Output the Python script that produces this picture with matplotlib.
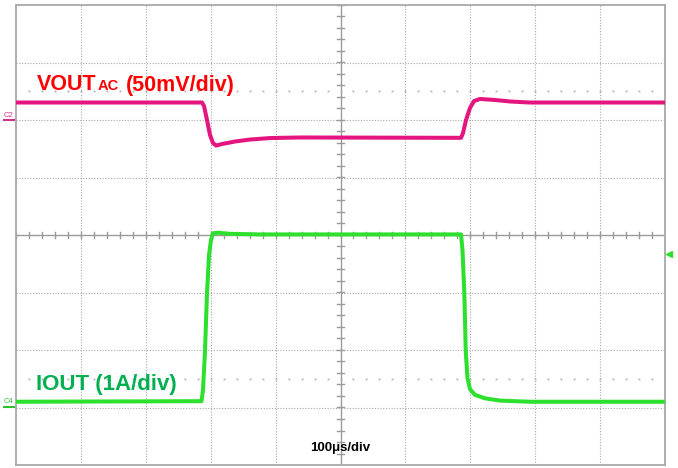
import numpy as np
import matplotlib
matplotlib.use("Agg")
import matplotlib.pyplot as plt
from matplotlib.lines import Line2D

# ---------------- data ----------------
# time in microseconds (0 = screen centre), 100 us/div
vout_t = [-500, -213.4, -210.3, -205.7, -201.1, -196.5, -191.8, -182.6, -162.6, -139.5,
          -108.6, -62.4, 185.7, 188.8, 193.4, 199.5, 205.7, 215.0, 238.1, 261.2, 292.0, 500]
# VOUT AC coupled, mV
vout_mv = [15.2, 15.2, 12.2, 0.0, -13.0, -20.0, -22.2, -20.9, -18.7, -17.0,
           -15.7, -15.2, -15.5, -11.3, 0.0, 10.4, 16.5, 18.3, 17.4, 16.1, 15.2, 15.2]

iout_t = [-500, -214.2, -211.9, -208.8, -205.7, -202.6, -199.6, -196.5, -188.8, -170.3,
          -124.0, 185.7, 188.0, 190.8, 193.0, 195.7, 199.5, 207.2, 222.6, 245.7, 292.0, 500]
# IOUT, A
iout_a = [0.10, 0.11, 0.30, 0.97, 1.99, 2.65, 2.91, 3.03, 3.04, 3.02,
          3.01, 3.01, 2.74, 1.99, 0.97, 0.51, 0.32, 0.22, 0.16, 0.12, 0.10, 0.10]

vout_scale_mv = 50.0   # mV/div
vout_offset_div = 2.0  # C2 ground marker
iout_scale_a = 1.0     # A/div
iout_offset_div = -3.0 # C4 ground marker
trig_level_div = -0.33

# ---------------- figure ----------------
W, H = 678, 468
fig = plt.figure(figsize=(W / 100, H / 100), dpi=100)
L, R, T, B = 16, 665, 5, 465
ax = fig.add_axes([L / W, (H - B) / H, (R - L) / W, (B - T) / H])
ax.set_xlim(-500, 500)
ax.set_ylim(-4, 4)
ax.set_xticks([])
ax.set_yticks([])
for s in ax.spines.values():
    s.set_color("#a8a8a8")
    s.set_linewidth(1.3)

grid_c = "#a8a8a8"
# dotted division grid
for xd in range(-400, 500, 100):
    if xd != 0:
        ax.axvline(xd, color=grid_c, lw=0.8, ls=(0, (1, 1.5)), zorder=1)
for yd in range(-3, 4):
    if yd != 0:
        ax.axhline(yd, color=grid_c, lw=0.8, ls=(0, (1, 1.5)), zorder=1)
# centre cross with minor ticks
ax.axvline(0, color="#9a9a9a", lw=1.0, zorder=1)
ax.axhline(0, color="#9a9a9a", lw=1.0, zorder=1)
tx = np.arange(-500, 501, 20)
ty = np.arange(-4, 4.01, 0.2)
ax.plot(np.repeat(tx, 3), np.tile([0.055, -0.055, np.nan], len(tx)),
        color="#9a9a9a", lw=1.0, zorder=1)
ax.plot(np.tile([-4.8, 4.8, np.nan], len(ty)), np.repeat(ty, 3),
        color="#9a9a9a", lw=1.0, zorder=1)
# 2.5 div marker rows
for yy in (2.5, -2.5):
    ax.plot(tx[1:-1], np.full(len(tx) - 2, yy), ls="none", marker="s", ms=1.3,
            color="#b0b0b0", mew=0, zorder=1)

# traces
vout_div = np.array(vout_mv) / vout_scale_mv + vout_offset_div
iout_div = np.array(iout_a) / iout_scale_a + iout_offset_div
ax.plot(vout_t, vout_div, color="#e5157f", lw=2.9, solid_joinstyle="round", zorder=3)
ax.plot(iout_t, iout_div, color="#2ee02e", lw=2.9, solid_joinstyle="round", zorder=3)

# ---------------- texts ----------------
def fx(x):
    return x / W

def fy(y):
    return (H - y) / H

fam = ["Liberation Sans", "DejaVu Sans"]
fig.text(fx(36.5), fy(90.5), "VOUT", color="#ff0000", fontsize=15.5,
         fontweight="bold", family=fam, ha="left", va="baseline")
fig.text(fx(97.5), fy(90.5), "AC", color="#ff0000", fontsize=10.5,
         fontweight="bold", family=fam, ha="left", va="baseline")
fig.text(fx(126), fy(90.5), "(50mV/div)", color="#ff0000", fontsize=15.5,
         fontweight="bold", family=fam, ha="left", va="baseline")
fig.text(fx(36.5), fy(390), "IOUT (1A/div)", color="#00b050", fontsize=16,
         fontweight="bold", family=fam, ha="left", va="baseline")
fig.text(fx(340), fy(451.5), "100μs/div", color="black", fontsize=9.5,
         fontweight="bold", family=fam, ha="center", va="baseline")

# channel ground markers
fig.text(fx(8.5), fy(117), "C2", color="#d0308a", fontsize=5.5, family=fam,
         ha="center", va="baseline")
fig.add_artist(Line2D([fx(4), fx(14)], [fy(120), fy(120)], color="#d0308a", lw=1.5))
fig.text(fx(8.5), fy(403), "C4", color="#2ec02e", fontsize=5.5, family=fam,
         ha="center", va="baseline")
fig.add_artist(Line2D([fx(4), fx(14)], [fy(407), fy(407)], color="#2ec02e", lw=1.5))
# trigger level marker
fig.add_artist(Line2D([fx(669)], [fy(235 - trig_level_div * 57.5)], marker="<",
                      ms=5, color="#2ee02e", ls="none"))

fig.savefig("out.png", dpi=100, facecolor="white")
